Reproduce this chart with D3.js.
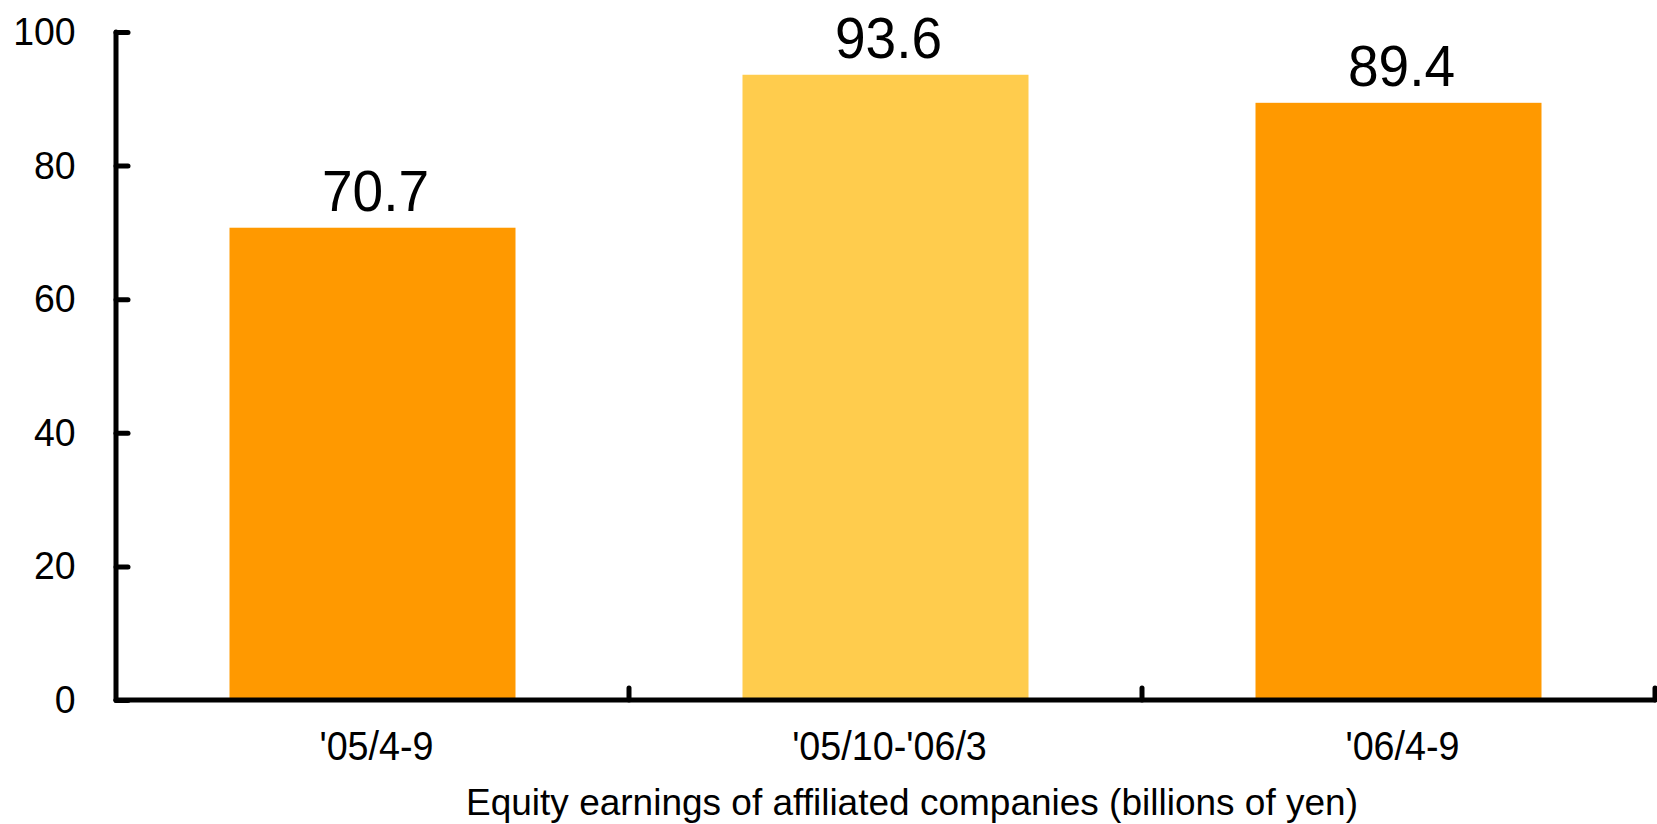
<!DOCTYPE html>
<html>
<head>
<meta charset="utf-8">
<script src="https://cdn.jsdelivr.net/npm/d3@7"></script>
<style>
  html, body { margin: 0; padding: 0; background: #fff; }
  svg { display: block; }
  text { font-family: "Liberation Sans", Arial, sans-serif; fill: #000; }
</style>
</head>
<body>
<svg id="chart" width="1657" height="824"></svg>
<script>
const categories = ["'05/4-9", "'05/10-'06/3", "'06/4-9"];
const values = [70.7, 93.6, 89.4];
const barColors = ["#FF9900", "#FFCC4D", "#FF9900"];
const yTicks = [0, 20, 40, 60, 80, 100];
const axisTitle = "Equity earnings of affiliated companies (billions of yen)";

const svg = d3.select("#chart");
const mLeft = 116, mRight = 1655, mTop = 32, mBottom = 700;

const x = d3.scaleBand().domain(categories).range([mLeft, mRight]).padding(0);
const y = d3.scaleLinear().domain([0, 100]).range([mBottom, mTop]);
const barFrac = 0.5575;
const bw = x.bandwidth() * barFrac;

// bars
svg.append("g").selectAll("rect").data(values).join("rect")
  .attr("x", (d, i) => x(categories[i]) + (x.bandwidth() - bw) / 2)
  .attr("y", d => y(d))
  .attr("width", bw)
  .attr("height", d => y(0) - y(d))
  .attr("fill", (d, i) => barColors[i]);

// value labels
svg.append("g").selectAll("text").data(values).join("text")
  .attr("transform", (d, i) => `translate(${x(categories[i]) + x.bandwidth() / 2 + 3},${y(d) - 17}) scale(0.95,1)`)
  .attr("text-anchor", "middle")
  .attr("font-size", 58)
  .text(d => d.toFixed(1));

// y axis
const tickPad = 42;
const yAxis = d3.axisLeft(y).tickValues(yTicks).tickSize(-12).tickPadding(tickPad).tickFormat(d3.format("d"));
const gy = svg.append("g").attr("transform", `translate(${mLeft},0)`).call(yAxis);
gy.select(".domain").remove();
gy.selectAll(".tick line").attr("stroke", "#000").attr("stroke-width", 5).attr("stroke-linecap", "round");
gy.selectAll(".tick text").attr("font-size", 39).attr("font-family", "Liberation Sans, Arial, sans-serif")
  .attr("transform", "scale(0.96,1)");
svg.append("line").attr("x1", mLeft).attr("x2", mLeft).attr("y1", y(100)).attr("y2", y(0))
  .attr("stroke", "#000").attr("stroke-width", 5).attr("stroke-linecap", "round");

// x axis
const boundaries = categories.map(c => x(c)).concat([mRight]);
svg.append("g").selectAll("line").data(boundaries.slice(1)).join("line")
  .attr("x1", d => d).attr("x2", d => d)
  .attr("y1", mBottom).attr("y2", mBottom - 12)
  .attr("stroke", "#000").attr("stroke-width", 5).attr("stroke-linecap", "round");
svg.append("line").attr("x1", mLeft).attr("x2", mRight).attr("y1", mBottom).attr("y2", mBottom)
  .attr("stroke", "#000").attr("stroke-width", 5).attr("stroke-linecap", "round");

// category labels
svg.append("g").selectAll("text").data(categories).join("text")
  .attr("transform", d => `translate(${x(d) + x.bandwidth() / 2 + 4},760) scale(0.92,1)`)
  .attr("text-anchor", "middle")
  .attr("font-size", 41)
  .text(d => d);

// axis title
svg.append("text")
  .attr("x", 912)
  .attr("y", 815)
  .attr("text-anchor", "middle")
  .attr("font-size", 37)
  .text(axisTitle);
</script>
</body>
</html>
